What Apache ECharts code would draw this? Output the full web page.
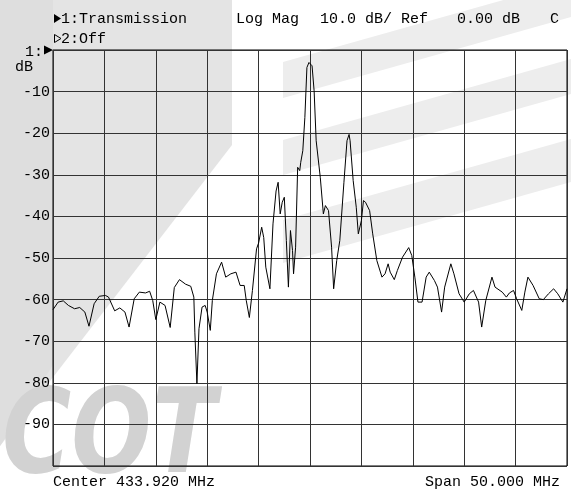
<!DOCTYPE html>
<html>
<head>
<meta charset="utf-8">
<script src="https://cdn.jsdelivr.net/npm/echarts@6/dist/echarts.min.js"></script>
<style>
html,body{margin:0;padding:0;background:#fff;}
#chart{width:571px;height:493px;}
</style>
</head>
<body>
<div id="chart"></div>
<script>
// Frequency offset from center (MHz), center 433.920 MHz, span 50 MHz
const freqOffset = [
 -25.0,-24.5,-24.0,-23.5,-22.9,-22.4,-21.9,-21.5,-21.0,-20.5,-19.9,-19.6,-19.0,-18.5,-18.0,-17.6,
 -17.1,-16.6,-16.0,-15.6,-15.3,-15.0,-14.6,-14.1,-13.6,-13.2,-12.7,-12.1,-11.6,-11.3,-11.2,-11.0,
 -10.8,-10.5,-10.2,-10.0,-9.7,-9.5,-9.1,-8.6,-8.2,-7.7,-7.2,-6.8,-6.4,-6.2,-5.9,-5.6,
 -5.2,-5.0,-4.7,-4.5,-4.3,-3.9,-3.6,-3.3,-3.1,-2.9,-2.7,-2.5,-2.3,-2.1,-1.9,-1.7,
 -1.6,-1.4,-1.2,-1.0,-0.9,-0.7,-0.5,-0.3,-0.1,0.2,0.4,0.6,1.0,1.3,1.5,1.8,
 2.1,2.3,2.6,2.9,3.3,3.6,3.8,3.9,4.2,4.5,4.7,5.0,5.2,5.4,5.8,6.1,
 6.5,7.0,7.3,7.6,7.8,8.2,8.5,9.0,9.6,9.9,10.2,10.5,10.9,11.3,11.6,12.1,
 12.4,12.8,13.1,13.7,14.0,14.5,15.0,15.5,15.9,16.4,16.7,17.1,17.7,18.0,18.7,19.1,
 19.4,19.8,20.1,20.6,20.9,21.2,21.7,22.3,22.7,23.2,23.7,24.1,24.6,25.0
];
// Transmission magnitude (dB)
const magDb = [
 -62.4,-60.6,-60.3,-61.4,-62.2,-61.9,-63.0,-66.4,-61.0,-59.2,-59.0,-59.4,-62.7,-62.0,-63.0,-66.6,
 -59.8,-58.2,-58.4,-58.0,-60.2,-64.8,-60.6,-61.4,-66.7,-57.1,-55.2,-56.3,-56.8,-59.4,-68.0,-80.2,
 -67.0,-61.8,-61.4,-63.0,-67.4,-60.2,-53.8,-51.0,-54.6,-53.8,-53.4,-56.6,-56.6,-60.2,-64.3,-57.8,
 -47.8,-46.4,-42.6,-45.1,-52.2,-57.4,-41.8,-33.9,-31.8,-39.4,-36.6,-35.4,-45.8,-57.0,-43.4,-48.2,
 -53.8,-47.4,-28.2,-29.0,-27.0,-24.2,-16.2,-4.2,-3.0,-3.8,-9.8,-21.8,-30.6,-39.4,-37.4,-38.6,
 -47.4,-57.4,-50.6,-45.8,-31.8,-21.8,-20.3,-21.8,-31.4,-37.8,-44.2,-41.0,-36.2,-36.6,-38.6,-44.2,
 -50.6,-54.6,-53.8,-51.4,-53.4,-55.2,-53.0,-49.8,-47.5,-49.4,-54.6,-60.6,-60.6,-54.6,-53.4,-55.4,
 -57.0,-63.0,-57.0,-51.4,-53.8,-58.6,-60.6,-58.6,-57.8,-60.6,-66.6,-60.2,-54.6,-57.0,-58.2,-59.4,
 -58.4,-57.8,-59.8,-62.6,-58.2,-54.6,-56.6,-59.8,-60.0,-58.6,-57.4,-58.6,-60.6,-57.4
];
const yTickHidden = [0, -100];

const FONT = '"Liberation Mono", "DejaVu Sans Mono", monospace';
const chart = echarts.init(document.getElementById('chart'), null, {renderer: 'canvas'});

const wm = '#e4e4e4';
const band = '#ededed';
const txt = (x, y, s, align) => ({
  type: 'text', x: x, y: y, z: 100,
  style: {text: s, fill: '#000', font: '15px ' + FONT, textAlign: align || 'left', textVerticalAlign: 'middle'}
});

chart.setOption({
  animation: false,
  backgroundColor: '#fff',
  grid: {left: 53, right: 4, top: 50, bottom: 27, show: true, borderColor: '#000', borderWidth: 1, backgroundColor: 'transparent', containLabel: false},
  xAxis: {
    type: 'value', min: -25, max: 25, interval: 5,
    axisLine: {show: false}, axisTick: {show: false}, axisLabel: {show: false},
    splitLine: {show: true, lineStyle: {color: '#333', width: 1}}
  },
  yAxis: {
    type: 'value', min: -100, max: 0, interval: 10,
    axisLine: {show: false}, axisTick: {show: false},
    axisLabel: {
      show: true, margin: 3, color: '#000', fontFamily: FONT, fontSize: 15,
      formatter: v => yTickHidden.indexOf(v) >= 0 ? '' : String(v)
    },
    splitLine: {show: true, lineStyle: {color: '#333', width: 1}}
  },
  graphic: [
    // watermark
    {type: 'polygon', z: -1, shape: {points: [[0,0],[232,0],[232,145],[0,446]]}, style: {fill: wm}},
    {type: 'polygon', z: -1, shape: {points: [[0,0],[53,0],[53,365],[0,446]]}, style: {fill: '#dedede'}},
    {type: 'polygon', z: -1, shape: {points: [[283,62],[571,-19],[571,17],[283,98]]}, style: {fill: band}},
    {type: 'polygon', z: -1, shape: {points: [[283,140],[571,59],[571,94],[283,175]]}, style: {fill: band}},
    {type: 'polygon', z: -1, shape: {points: [[283,220],[571,139],[571,182],[283,263]]}, style: {fill: band}},
    {type: 'text', z: -1, x: 2, y: 382, scaleX: 0.8, style: {text: 'COT', fill: '#d2d2d2', font: 'italic bold 118px "DejaVu Sans"', textAlign: 'left', textVerticalAlign: 'top'}},
    // header texts
    {type: 'polygon', z: 100, shape: {points: [[54,14],[61,18.5],[54,23]]}, style: {fill: '#000'}},
    txt(61, 19, '1:Transmission'),
    txt(236, 19, 'Log Mag'),
    txt(320, 19, '10.0 dB/ Ref'),
    txt(457, 19, '0.00 dB'),
    txt(550, 19, 'C'),
    {type: 'polygon', z: 100, shape: {points: [[54.5,34.5],[61,38.5],[54.5,42.5]]}, style: {fill: 'none', stroke: '#000', lineWidth: 1}},
    txt(61, 39, '2:Off'),
    txt(25, 52, '1:'),
    {type: 'polygon', z: 100, shape: {points: [[44,45.5],[53,50],[44,54.5]]}, style: {fill: '#000'}},
    txt(15, 67, 'dB'),
    txt(53, 482, 'Center 433.920 MHz'),
    txt(560, 482, 'Span 50.000 MHz', 'right')
  ],
  series: [{
    type: 'line',
    data: freqOffset.map((f, i) => [f, magDb[i]]),
    showSymbol: false,
    smooth: false,
    lineStyle: {color: '#000', width: 1},
    z: 5
  }]
});
</script>
</body>
</html>
